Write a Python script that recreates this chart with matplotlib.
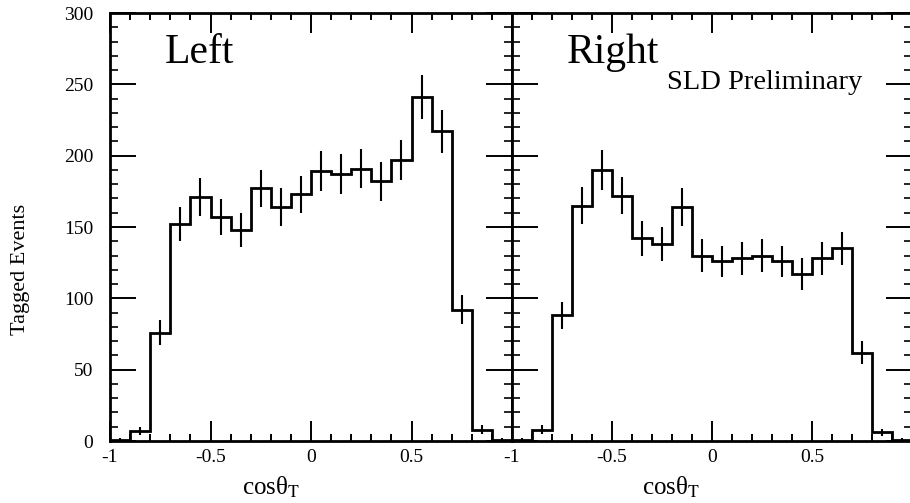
import numpy as np
import matplotlib
matplotlib.use("Agg")
import matplotlib.pyplot as plt
from matplotlib.ticker import FixedLocator, MultipleLocator

plt.rcParams['font.family'] = ['Liberation Serif', 'DejaVu Serif']
plt.rcParams['mathtext.fontset'] = 'stix'

# bin edges in cos(theta_T), 20 bins of 0.1
edges = np.round(np.arange(-1.0, 1.01, 0.1), 2)

left_counts = [1, 7, 76, 152, 171, 157, 148, 177, 164, 173,
               189, 187, 191, 182, 197, 241, 217, 92, 8, 1]
left_errs = [1, 3, 9, 12, 13, 12.5, 12, 13, 13, 13,
             14, 14, 14, 13.5, 14, 15.5, 15, 10, 3, 1]

right_counts = [1, 8, 88, 165, 190, 172, 142, 138, 164, 130,
                126, 128, 130, 126, 117, 128, 135, 62, 6, 1]
right_errs = [1, 3, 9.5, 13, 14, 13, 12, 12, 13, 11.5,
              11, 11.5, 11.5, 11, 11, 11.5, 11.5, 8, 2.5, 1]

xticks = [-1, -0.5, 0, 0.5]
xtick_labels = ['-1', '-0.5', '0', '0.5']
yticks = [0, 50, 100, 150, 200, 250, 300]

fig = plt.figure(figsize=(9.10, 5.03), dpi=100)
ax_l = fig.add_axes([110/910, 62/503, 402/910, 428/503])
ax_r = fig.add_axes([512/910, 62/503, 400/910, 428/503])

centers = 0.5 * (edges[:-1] + edges[1:])

for ax, counts, errs in [(ax_l, left_counts, left_errs), (ax_r, right_counts, right_errs)]:
    ax.stairs(counts, edges, baseline=0, color='black', linewidth=2.0)
    ax.errorbar(centers, counts, yerr=errs, fmt='none', ecolor='black',
                elinewidth=1.5, capsize=0)
    ax.set_xlim(-1, 1)
    ax.set_ylim(0, 300)
    ax.xaxis.set_major_locator(FixedLocator(xticks))
    ax.xaxis.set_minor_locator(MultipleLocator(0.1))
    ax.yaxis.set_major_locator(FixedLocator(yticks))
    ax.yaxis.set_minor_locator(MultipleLocator(10))
    ax.set_xticklabels(xtick_labels)
    ax.tick_params(which='both', direction='in', top=True, right=True,
                   colors='black', labelsize=14)
    ax.tick_params(axis='x', which='major', length=14.5, width=1.4, pad=6)
    ax.tick_params(axis='x', which='minor', length=5, width=1.4)
    ax.tick_params(axis='y', which='major', length=18.5, width=1.4, pad=12)
    ax.tick_params(axis='y', which='minor', length=5.5, width=1.2)
    for sp in ax.spines.values():
        sp.set_linewidth(2.0)

ax_r.set_yticklabels([])

ax_l.text(165/910, 1 - 63/503, 'Left', transform=fig.transFigure,
          fontsize=30, ha='left', va='baseline')
ax_r.text(567/910, 1 - 63/503, 'Right', transform=fig.transFigure,
          fontsize=30, ha='left', va='baseline')
ax_r.text(667/910, 1 - 89/503, 'SLD Preliminary', transform=fig.transFigure,
          fontsize=20.5, ha='left', va='baseline')

for x0 in (242, 642):
    fig.text(x0/910, 1 - 495/503, r'cosθ$_\mathrm{T}$',
             fontsize=18, ha='left', va='baseline')

fig.text(21/910, 1 - 269/503, 'Tagged Events', rotation=90,
         fontsize=16, ha='center', va='center')

fig.savefig('out.png', dpi=100)
